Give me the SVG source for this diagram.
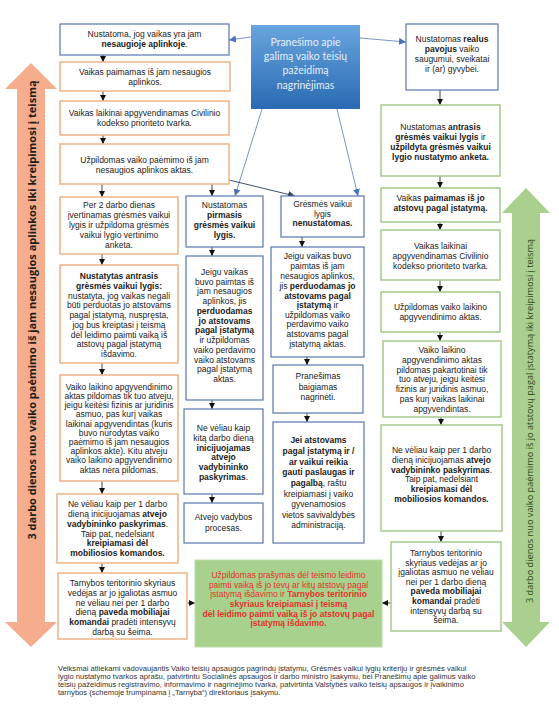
<svg xmlns="http://www.w3.org/2000/svg" width="559" height="720" viewBox="0 0 559 720">
<defs>
<marker id="ah" markerUnits="userSpaceOnUse" markerWidth="7" markerHeight="7" refX="6" refY="3" orient="auto"><path d="M0,0 L6,3 L0,6 z" fill="#111"/></marker>
<marker id="ahb" markerUnits="userSpaceOnUse" markerWidth="8" markerHeight="8" refX="7" refY="3.5" orient="auto"><path d="M0,0 L7,3.5 L0,7 z" fill="#4a72b8"/></marker>
<marker id="ahd" markerUnits="userSpaceOnUse" markerWidth="8" markerHeight="8" refX="7" refY="3.5" orient="auto"><path d="M0,0 L7,3.5 L0,7 z" fill="#2b3d5c"/></marker>
<linearGradient id="cg" x1="0" y1="0" x2="0" y2="1"><stop offset="0" stop-color="#68a5de"/><stop offset="1" stop-color="#2a6ab2"/></linearGradient>
</defs>
<style>
.t{font-family:"Liberation Sans",Arial,sans-serif;font-size:8.5px;fill:#222;text-anchor:middle}
.b{font-weight:bold}
.bb{fill:#fff;stroke:#5877b0;stroke-width:1.2}
.bo{fill:#fff;stroke:#eeb287;stroke-width:1.5}
.bg{fill:#fff;stroke:#a6c98b;stroke-width:1.5}
.ar{stroke:#111;stroke-width:0.8;fill:none;marker-end:url(#ah)}
.cb{stroke:#7a94c2;stroke-width:1;fill:none;marker-end:url(#ahb)}
.cd{stroke:#3e5070;stroke-width:1;fill:none;marker-end:url(#ahd)}
.rd{fill:#e3322a}
</style>

<g id="arrow-left">
<path d="M31,63 L57,89 L45,89 L45,622 L57,622 L31,647 L5,622 L17,622 L17,89 L5,89 z" fill="#f5ad8d"/>
<text transform="translate(36,310) rotate(-90)" style="font-family:'Open Sans','Noto Sans',sans-serif;font-size:11px;font-weight:bold;fill:#1e1e1e;text-anchor:middle">3 darbo dienos nuo vaiko paėmimo iš jam nesaugios aplinkos iki kreipimosi į teismą</text>
</g>
<g id="arrow-right">
<path d="M526,188 L550,213 L540,213 L540,622 L550,622 L526,647 L502,622 L512,622 L512,213 L502,213 z" fill="#a9d08e"/>
<text transform="translate(533,421) rotate(-90)" style="font-family:'Open Sans','Noto Sans',sans-serif;font-size:9.2px;fill:#2f4a24;text-anchor:middle">3 darbo dienos nuo vaiko paėmimo iš jo atstovų pagal įstatymą iki kreipimosi į teismą</text>
</g>

<g id="connectors">
<line class="cb" x1="251" y1="37" x2="229" y2="40"/>
<line class="cb" x1="360" y1="38" x2="406" y2="42"/>
<line class="cb" x1="262" y1="109" x2="235" y2="196"/>
<line class="cb" x1="337" y1="109" x2="358" y2="196"/>
<line class="cd" x1="229" y1="180" x2="295" y2="196"/>
<line class="ar" x1="103" y1="55" x2="103" y2="62"/>
<line class="ar" x1="103" y1="91" x2="103" y2="101"/>
<line class="ar" x1="103" y1="135" x2="103" y2="144"/>
<line class="ar" x1="102" y1="184" x2="102" y2="197"/>
<line class="ar" x1="212" y1="184" x2="212" y2="196"/>
<line class="ar" x1="102" y1="254" x2="102" y2="265"/>
<line class="ar" x1="102" y1="363" x2="102" y2="375"/>
<line class="ar" x1="102" y1="481" x2="102" y2="494"/>
<line class="ar" x1="102" y1="563" x2="102" y2="573"/>
<line class="ar" x1="212" y1="247" x2="212" y2="256"/>
<line class="ar" x1="212" y1="400" x2="212" y2="409"/>
<line class="ar" x1="212" y1="494" x2="212" y2="503"/>
<line class="ar" x1="302" y1="237" x2="302" y2="247"/>
<line class="ar" x1="307" y1="357" x2="307" y2="365"/>
<line class="ar" x1="307" y1="413" x2="307" y2="422"/>
<line class="ar" x1="440" y1="90" x2="440" y2="105"/>
<line class="ar" x1="440" y1="176" x2="440" y2="188"/>
<line class="ar" x1="440" y1="222" x2="440" y2="230"/>
<line class="ar" x1="440" y1="280" x2="440" y2="292"/>
<line class="ar" x1="440" y1="332" x2="440" y2="341"/>
<line class="ar" x1="441" y1="417" x2="441" y2="425"/>
<line class="ar" x1="441" y1="531" x2="441" y2="542"/>
<line class="ar" x1="187" y1="603" x2="195" y2="603"/>
<line class="ar" x1="391" y1="603" x2="382" y2="603"/>
</g>

<g id="center">
<rect x="251" y="25" width="109" height="84" fill="url(#cg)"/>
<text style="font-family:Lato,'Open Sans',sans-serif;font-size:10.5px;fill:#e4eef9;text-anchor:middle"><tspan x="305.5" y="45.7">Pranešimo apie</tspan><tspan x="305.5" y="59.5">galimą vaiko teisių</tspan><tspan x="305.5" y="74">pažeidimą</tspan><tspan x="305.5" y="89">nagrinėjimas</tspan></text>
</g>

<g id="b1"><rect class="bb" x="60" y="24" width="169" height="31"/>
<text class="t"><tspan x="144.5" y="36.5">Nustatoma, jog vaikas yra jam</tspan><tspan x="144.5" y="46.5"><tspan class="b">nesaugioje aplinkoje</tspan>.</tspan></text></g>
<g id="b2"><rect class="bo" x="60" y="62" width="170" height="29"/>
<text class="t"><tspan x="145" y="74.7">Vaikas paimamas iš jam nesaugios</tspan><tspan x="145" y="84.7">aplinkos.</tspan></text></g>
<g id="b3"><rect class="bo" x="60" y="101" width="169" height="34"/>
<text class="t"><tspan x="144.5" y="116.3">Vaikas laikinai apgyvendinamas Civilinio</tspan><tspan x="144.5" y="126.3">kodekso prioriteto tvarka.</tspan></text></g>
<g id="b4"><rect class="bo" x="60" y="144" width="169" height="40"/>
<text class="t"><tspan x="144.5" y="163">Užpildomas vaiko paėmimo iš jam</tspan><tspan x="144.5" y="173">nesaugios aplinkos aktas.</tspan></text></g>
<g id="b5"><rect class="bo" x="60" y="197" width="118" height="57"/>
<text class="t"><tspan x="119" y="208">Per 2 darbo dienas</tspan><tspan x="119" y="218">įvertinamas grėsmės vaikui</tspan><tspan x="119" y="228">lygis ir užpildoma grėsmės</tspan><tspan x="119" y="238">vaikui lygio vertinimo</tspan><tspan x="119" y="248">anketa.</tspan></text></g>
<g id="b6"><rect class="bo" x="60" y="265" width="118" height="98"/>
<text class="t"><tspan x="119" y="279" class="b">Nustatytas antrasis</tspan><tspan x="119" y="288.8" class="b">grėsmės vaikui lygis:</tspan><tspan x="119" y="298.5">nustatyta, jog vaikas negali</tspan><tspan x="119" y="308.3">būti perduotas jo atstovams</tspan><tspan x="119" y="318">pagal įstatymą, nuspręsta,</tspan><tspan x="119" y="327.8">jog bus kreiptasi į teismą</tspan><tspan x="119" y="337.5">dėl leidimo paimti vaiką iš</tspan><tspan x="119" y="347.3">atstovų pagal įstatymą</tspan><tspan x="119" y="357">išdavimo.</tspan></text></g>
<g id="b7"><rect class="bo" x="60" y="375" width="118" height="106"/>
<text class="t"><tspan x="119" y="389.7">Vaiko laikino apgyvendinimo</tspan><tspan x="119" y="398.9">aktas pildomas tik tuo atveju,</tspan><tspan x="119" y="408.1">jeigu keitėsi fizinis ar juridinis</tspan><tspan x="119" y="417.3">asmuo, pas kurį vaikas</tspan><tspan x="119" y="426.5">laikinai apgyvendintas (kuris</tspan><tspan x="119" y="435.7">buvo nurodytas vaiko</tspan><tspan x="119" y="444.9">paėmimo iš jam nesaugios</tspan><tspan x="119" y="454.1">aplinkos akte). Kitu atveju</tspan><tspan x="119" y="463.3">vaiko laikino apgyvendinimo</tspan><tspan x="119" y="472.5">aktas nėra pildomas.</tspan></text></g>
<g id="b8"><rect class="bo" x="57" y="494" width="121" height="69"/>
<text class="t"><tspan x="117.5" y="507">Ne vėliau kaip per 1 darbo</tspan><tspan x="117.5" y="517">dieną  inicijuojamas <tspan class="b">atvejo</tspan></tspan><tspan x="117.5" y="527"><tspan class="b">vadybininko paskyrimas</tspan>.</tspan><tspan x="117.5" y="536.5">Taip pat, nedelsiant</tspan><tspan x="117.5" y="546.3" class="b">kreipiamasi dėl</tspan><tspan x="117.5" y="556" class="b">mobiliosios komandos.</tspan></text></g>
<g id="b9"><rect class="bo" x="58" y="573" width="129" height="66"/>
<text class="t"><tspan x="122.5" y="585.7">Tarnybos teritorinio skyriaus</tspan><tspan x="122.5" y="595.7">vedėjas ar jo įgaliotas asmuo</tspan><tspan x="122.5" y="605.7">ne vėliau nei per 1 darbo</tspan><tspan x="122.5" y="615.3">dieną <tspan class="b">paveda mobiliajai</tspan></tspan><tspan x="122.5" y="625"><tspan class="b">komandai</tspan> pradėti intensyvų</tspan><tspan x="122.5" y="634.7">darbą su šeima.</tspan></text></g>

<g id="m1"><rect class="bb" x="186" y="196" width="77" height="51"/>
<text class="t"><tspan x="224.5" y="208">Nustatomas</tspan><tspan x="224.5" y="218" class="b">pirmasis</tspan><tspan x="224.5" y="228" class="b">grėsmės vaikui</tspan><tspan x="224.5" y="238" class="b">lygis.</tspan></text></g>
<g id="m2"><rect class="bb" x="186" y="256" width="77" height="144"/>
<text class="t"><tspan x="224.5" y="274.7">Jeigu vaikas</tspan><tspan x="224.5" y="284.5">buvo paimtas iš</tspan><tspan x="224.5" y="294.2">jam nesaugios</tspan><tspan x="224.5" y="304">aplinkos, jis</tspan><tspan x="224.5" y="313.7" class="b">perduodamas</tspan><tspan x="224.5" y="323.5" class="b">jo atstovams</tspan><tspan x="224.5" y="333.2" class="b">pagal įstatymą</tspan><tspan x="224.5" y="343">ir užpildomas</tspan><tspan x="224.5" y="352.7">vaiko perdavimo</tspan><tspan x="224.5" y="362.5">vaiko atstovams</tspan><tspan x="224.5" y="372.2">pagal įstatymą</tspan><tspan x="224.5" y="382">aktas.</tspan></text></g>
<g id="m3"><rect class="bb" x="184" y="409" width="79" height="85"/>
<text class="t"><tspan x="223.5" y="431.3">Ne vėliau kaip</tspan><tspan x="223.5" y="441.3">kitą darbo dieną</tspan><tspan x="223.5" y="450.7" class="b">inicijuojamas</tspan><tspan x="223.5" y="460.3" class="b">atvejo</tspan><tspan x="223.5" y="470" class="b">vadybininko</tspan><tspan x="223.5" y="479.7"><tspan class="b">paskyrimas</tspan>.</tspan></text></g>
<g id="m4"><rect class="bb" x="184" y="503" width="79" height="40"/>
<text class="t"><tspan x="223.5" y="520.3">Atvejo vadybos</tspan><tspan x="223.5" y="531.3">procesas.</tspan></text></g>

<g id="c1"><rect class="bb" x="281" y="196" width="83" height="41"/>
<text class="t"><tspan x="322.5" y="207">Grėsmės vaikui</tspan><tspan x="322.5" y="216.5">lygis</tspan><tspan x="322.5" y="226.3" class="b">nenustatomas.</tspan></text></g>
<g id="c2"><rect class="bb" x="271" y="247" width="93" height="110"/>
<text class="t"><tspan x="317.5" y="259">Jeigu vaikas buvo</tspan><tspan x="317.5" y="269">paimtas iš jam</tspan><tspan x="317.5" y="279">nesaugios aplinkos,</tspan><tspan x="317.5" y="289">jis <tspan class="b">perduodamas jo</tspan></tspan><tspan x="317.5" y="298.7" class="b">atstovams pagal</tspan><tspan x="317.5" y="308"><tspan class="b">įstatymą</tspan> ir</tspan><tspan x="317.5" y="318">užpildomas vaiko</tspan><tspan x="317.5" y="327.3">perdavimo vaiko</tspan><tspan x="317.5" y="337">atstovams pagal</tspan><tspan x="317.5" y="346.5">įstatymą aktas.</tspan></text></g>
<g id="c3"><rect class="bb" x="273" y="365" width="90" height="48"/>
<text class="t"><tspan x="318" y="379">Pranešimas</tspan><tspan x="318" y="389.7">baigiamas</tspan><tspan x="318" y="399.7">nagrinėti.</tspan></text></g>
<g id="c4"><rect class="bb" x="273" y="422" width="91" height="121"/>
<text class="t"><tspan x="318.5" y="443" class="b">Jei atstovams</tspan><tspan x="318.5" y="454" class="b">pagal įstatymą ir /</tspan><tspan x="318.5" y="464.7" class="b">ar vaikui reikia</tspan><tspan x="318.5" y="475.3" class="b">gauti paslaugas ir</tspan><tspan x="318.5" y="486.3"><tspan class="b">pagalbą</tspan>, raštu</tspan><tspan x="318.5" y="497">kreipiamasi į vaiko</tspan><tspan x="318.5" y="507">gyvenamosios</tspan><tspan x="318.5" y="517.5">vietos savivaldybės</tspan><tspan x="318.5" y="528">administraciją.</tspan></text></g>

<g id="r1"><rect class="bb" x="406" y="24" width="92" height="66"/>
<text class="t"><tspan x="452" y="42.3">Nustatomas <tspan class="b">realus</tspan></tspan><tspan x="452" y="52.3"><tspan class="b">pavojus</tspan> vaiko</tspan><tspan x="452" y="61.7">saugumui, sveikatai</tspan><tspan x="452" y="71.7">ir (ar) gyvybei.</tspan></text></g>
<g id="r2"><rect class="bg" x="381" y="105" width="119" height="71"/>
<text class="t"><tspan x="440.5" y="130.3">Nustatomas <tspan class="b">antrasis</tspan></tspan><tspan x="440.5" y="140.3"><tspan class="b">grėsmės vaikui lygis</tspan> ir</tspan><tspan x="440.5" y="150.3" class="b">užpildyta grėsmės vaikui</tspan><tspan x="440.5" y="160.3" class="b">lygio nustatymo anketa.</tspan></text></g>
<g id="r3"><rect class="bg" x="381" y="188" width="119" height="34"/>
<text class="t"><tspan x="440.5" y="201">Vaikas <tspan class="b">paimamas iš jo</tspan></tspan><tspan x="440.5" y="211" class="b">atstovų pagal įstatymą.</tspan></text></g>
<g id="r4"><rect class="bg" x="381" y="230" width="119" height="50"/>
<text class="t"><tspan x="440.5" y="249">Vaikas laikinai</tspan><tspan x="440.5" y="259">apgyvendinamas Civilinio</tspan><tspan x="440.5" y="269">kodekso prioriteto tvarka.</tspan></text></g>
<g id="r5"><rect class="bg" x="381" y="292" width="119" height="40"/>
<text class="t"><tspan x="440.5" y="310.3">Užpildomas vaiko laikino</tspan><tspan x="440.5" y="320.3">apgyvendinimo aktas.</tspan></text></g>
<g id="r6"><rect class="bg" x="383" y="341" width="118" height="76"/>
<text class="t"><tspan x="442" y="353">Vaiko laikino</tspan><tspan x="442" y="363">apgyvendinimo aktas</tspan><tspan x="442" y="372.5">pildomas pakartotinai tik</tspan><tspan x="442" y="382.3">tuo atveju, jeigu keitėsi</tspan><tspan x="442" y="392.2">fizinis ar juridinis asmuo,</tspan><tspan x="442" y="402">pas kurį vaikas laikinai</tspan><tspan x="442" y="412">apgyvendintas.</tspan></text></g>
<g id="r7"><rect class="bg" x="381" y="425" width="121" height="106"/>
<text class="t"><tspan x="441.5" y="453">Ne vėliau kaip per 1 darbo</tspan><tspan x="441.5" y="463">dieną  inicijuojamas <tspan class="b">atvejo</tspan></tspan><tspan x="441.5" y="473"><tspan class="b">vadybininko paskyrimas</tspan>.</tspan><tspan x="441.5" y="482.3">Taip pat, nedelsiant</tspan><tspan x="441.5" y="492.3" class="b">kreipiamasi dėl</tspan><tspan x="441.5" y="502" class="b">mobiliosios komandos.</tspan></text></g>
<g id="r8"><rect class="bg" x="391" y="542" width="110" height="89"/>
<text class="t"><tspan x="446" y="555.7">Tarnybos teritorinio</tspan><tspan x="446" y="565.7">skyriaus vedėjas ar jo</tspan><tspan x="446" y="575.3">įgaliotas asmuo ne vėliau</tspan><tspan x="446" y="584.7">nei per 1 darbo dieną</tspan><tspan x="446" y="594" class="b">paveda mobiliajai</tspan><tspan x="446" y="603.7"><tspan class="b">komandai</tspan> pradėti</tspan><tspan x="446" y="613.7">intensyvų darbą su</tspan><tspan x="446" y="623">šeima.</tspan></text></g>

<g id="court">
<rect x="195" y="560" width="187" height="87" fill="#a9d18e" stroke="#bcdca6" stroke-width="1"/>
<text class="t rd"><tspan x="288.5" y="578">Užpildomas prašymas dėl teismo leidimo</tspan><tspan x="288.5" y="587.7">paimti vaiką iš jo tėvų ar kitų atstovų pagal</tspan><tspan x="288.5" y="597.3">įstatymą išdavimo ir <tspan class="b">Tarnybos teritorinio</tspan></tspan><tspan x="288.5" y="607" class="b">skyriaus kreipiamasi į teismą</tspan><tspan x="288.5" y="616.7" class="b">dėl leidimo paimti vaiką iš jo atstovų pagal</tspan><tspan x="288.5" y="626.3" class="b">įstatymą išdavimo.</tspan></text>
</g>

<g id="footnote">
<text style="font-family:'Liberation Sans',Arial,sans-serif;font-size:7.6px;fill:#333"><tspan x="58" y="670.5">Veiksmai atliekami vadovaujantis Vaiko teisių apsaugos pagrindų įstatymu, Grėsmės vaikui lygių kriterijų ir grėsmės vaikui</tspan><tspan x="58" y="678.5">lygio nustatymo tvarkos aprašu, patvirtintu Socialinės apsaugos ir darbo ministro įsakymu, bei Pranešimų apie galimus vaiko</tspan><tspan x="58" y="686.5">teisių pažeidimus registravimo, informavimo ir nagrinėjimo tvarka, patvirtinta Valstybės vaiko teisių apsaugos ir įvaikinimo</tspan><tspan x="58" y="694.5">tarnybos (schemoje trumpinama į „Tarnyba“) direktoriaus įsakymu.</tspan></text>
</g>
</svg>
